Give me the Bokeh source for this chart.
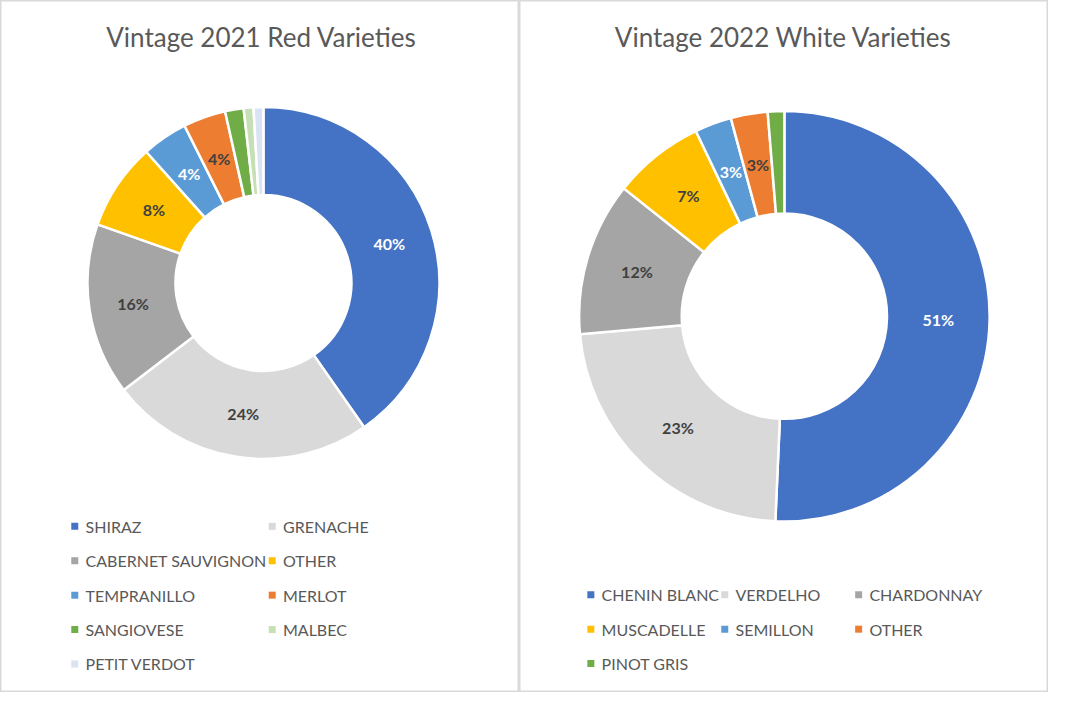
import math
from bokeh.plotting import figure
from bokeh.layouts import row
from bokeh.models import Range1d, ColumnDataSource
from bokeh.core.properties import value
from bokeh.embed import file_html
from bokeh.resources import INLINE

# ---- data ----
red_title = "Vintage 2021 Red Varieties"
red_names = ["SHIRAZ", "GRENACHE", "CABERNET SAUVIGNON", "OTHER", "TEMPRANILLO",
             "MERLOT", "SANGIOVESE", "MALBEC", "PETIT VERDOT"]
red_values = [40.3, 24.3, 15.8, 8.0, 4.2, 3.9, 1.7, 0.9, 0.9]
red_colors = ["#4472C4", "#D9D9D9", "#A5A5A5", "#FFC000", "#5B9BD5",
              "#ED7D31", "#70AD47", "#C5E0B4", "#DAE3F3"]
red_label_colors = ["#FFFFFF", "#404040", "#404040", "#404040", "#FFFFFF",
                    "#404040", None, None, None]

white_title = "Vintage 2022 White Varieties"
white_names = ["CHENIN BLANC", "VERDELHO", "CHARDONNAY", "MUSCADELLE", "SEMILLON",
               "OTHER", "PINOT GRIS"]
white_values = [50.7, 22.9, 12.1, 7.2, 2.9, 2.9, 1.3]
white_colors = ["#4472C4", "#D9D9D9", "#A5A5A5", "#FFC000", "#5B9BD5",
                "#ED7D31", "#70AD47"]
white_label_colors = ["#FFFFFF", "#404040", "#404040", "#404040", "#FFFFFF",
                      "#404040", None]

S = 692 / 708.0
FONT = "Lato"
TXT = "#595959"


def make_panel(x0, x1, title, names, vals, colors, lcols, cx, cy, R, r,
               legend_cols, legend_x, legend_y0, legend_dy, title_x):
    w = int(round((x1 - x0) * S))
    p = figure(width=w, height=692, output_backend="svg", toolbar_location=None,
               x_range=Range1d(x0, x0 + w / S), y_range=Range1d(0, 708),
               min_border=0)
    p.axis.visible = False
    p.grid.visible = False
    p.outline_line_color = "#D9D9D9"
    p.outline_line_width = 2
    p.background_fill_color = "white"

    total = sum(vals)
    starts, ends, mids = [], [], []
    c = 0.0
    for v in vals:
        a0 = c / total * 2 * math.pi
        c += v
        a1 = c / total * 2 * math.pi
        starts.append(math.pi / 2 - a1)
        ends.append(math.pi / 2 - a0)
        mids.append(math.pi / 2 - (a0 + a1) / 2)
    src = ColumnDataSource(dict(start=starts, end=ends, color=colors, name=names))
    p.annular_wedge(x=cx, y=cy, inner_radius=r, outer_radius=R,
                    start_angle="start", end_angle="end", fill_color="color",
                    line_color="white", line_width=2.5, source=src)

    # data labels
    rm = (R + r) / 2
    lx, ly, lt, lc = [], [], [], []
    for v, m, col in zip(vals, mids, lcols):
        if col is None:
            continue
        lx.append(cx + rm * math.cos(m))
        ly.append(cy + rm * math.sin(m))
        lt.append("%d%%" % int(v / total * 100 + 0.5))
        lc.append(col)
    p.text(x=lx, y=ly, text=lt, text_color=lc, text_align="center",
           text_baseline="middle", text_font=value(FONT),
           text_font_size="16px", text_font_style="bold")

    # title
    p.text(x=[title_x], y=[708 - 37], text=[title], text_color=TXT,
           text_align="center", text_baseline="middle", text_font=value(FONT),
           text_font_size="26px")

    # legend
    sx, sy, tx, ty = [], [], [], []
    for i, n in enumerate(names):
        col = i % legend_cols
        rw = i // legend_cols
        xx = legend_x[col]
        yy = 708 - (legend_y0 + rw * legend_dy)
        sx.append(xx)
        sy.append(yy)
        tx.append(xx + 11)
        ty.append(yy)
    p.scatter(x=sx, y=sy, marker="square", size=7, fill_color=colors,
              line_color=None)
    p.text(x=tx, y=ty, text=names, text_color=TXT, text_align="left",
           text_baseline="middle", text_font=value(FONT), text_font_size="16px")
    return p


left = make_panel(0, 531, red_title, red_names, red_values, red_colors,
                  red_label_colors, 269, 708 - 289, 180, 90,
                  2, [76, 278], 538, 35.2, 267)
right = make_panel(531, 1072, white_title, white_names, white_values, white_colors,
                   white_label_colors, 802, 708 - 323, 210, 105,
                   3, [604, 741, 878], 608, 35.2, 801)

layout = row(left, right)
open("out.html", "w").write(file_html(layout, INLINE))
